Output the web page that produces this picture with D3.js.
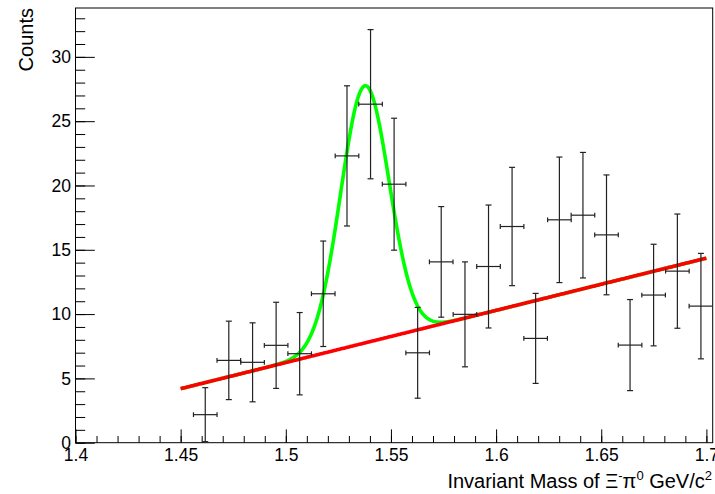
<!DOCTYPE html>
<html>
<head>
<meta charset="utf-8">
<script src="https://cdn.jsdelivr.net/npm/d3@7"></script>
<style>
	html, body { margin: 0; padding: 0; background: #fff; }
	svg { display: block; }
</style>
</head>
<body>
<svg id="chart"></svg>
<script>
	"use strict";

	// bin centres (GeV/c^2), 27 bins between 1.4 and 1.703, filled bins only
	var aMass = [1.4617, 1.4729, 1.4842, 1.4954, 1.5066, 1.5178, 1.5291, 1.5403, 1.5515, 1.5627, 1.5739,
		1.5852, 1.5964, 1.6076, 1.6188, 1.6301, 1.6413, 1.6525, 1.6637, 1.6749, 1.6862, 1.6974];
	var aCounts = [2.18, 6.40, 6.25, 7.57, 6.92, 11.58, 22.30, 26.32, 20.10, 6.99, 14.06,
		9.98, 13.70, 16.81, 8.11, 17.33, 17.69, 16.16, 7.59, 11.48, 13.34, 10.62];
	var aErrors = [2.10, 3.05, 3.07, 3.35, 3.20, 4.10, 5.45, 5.80, 5.13, 3.53, 4.30,
		4.08, 4.78, 4.60, 3.50, 4.88, 4.88, 4.66, 3.54, 3.95, 4.44, 4.10];
	var fBinHalfWidth = 0.00561;

	// fit: pol1 background + gaussian peak, drawn over 1.45 - 1.70
	var aFitRange = [1.45, 1.70];
	var aBackground = [-54.67, 40.6];           // p0, p1
	var aPeak = [20.0, 1.5376, 0.0115];         // amplitude, mean, sigma

	var aXTicks = [1.4, 1.45, 1.5, 1.55, 1.6, 1.65, 1.7];
	var aYTicks = [0, 5, 10, 15, 20, 25, 30];

	var iWidth = 715, iHeight = 494;
	var oFrame = { left: 75.5, right: 712.7, top: 8, bottom: 442.7 };
	var sFont = "'Liberation Sans', Arial, Helvetica, sans-serif";

	var oSvg = d3.select("#chart")
		.attr("width", iWidth)
		.attr("height", iHeight)
		.style("font-family", sFont);

	var oScaleX = d3.scaleLinear()
		.domain([1.4, 1.703])
		.range([oFrame.left, oFrame.right]);

	var oScaleY = d3.scaleLinear()
		.domain([0, 33.8])
		.range([oFrame.bottom, oFrame.top]);

	// minor ticks
	var aXMinor = d3.range(140, 171).map(function (i) { return i / 100; });
	var aYMinor = d3.range(0, 34);

	oSvg.append("g")
		.attr("transform", "translate(0," + oFrame.bottom + ")")
		.call(d3.axisBottom(oScaleX).tickValues(aXMinor).tickSize(-6.7).tickFormat(""))
		.call(function (g) { g.select(".domain").remove(); });

	oSvg.append("g")
		.attr("transform", "translate(" + oFrame.left + ",0)")
		.call(d3.axisLeft(oScaleY).tickValues(aYMinor).tickSize(-9.7).tickFormat(""))
		.call(function (g) { g.select(".domain").remove(); });

	var oXAxis = oSvg.append("g")
		.attr("transform", "translate(0," + oFrame.bottom + ")")
		.call(d3.axisBottom(oScaleX).tickValues(aXTicks).tickSize(-13.3).tickPadding(6).tickFormat(d3.format("~g")));
	oXAxis.select(".domain").remove();

	var oYAxis = oSvg.append("g")
		.attr("transform", "translate(" + oFrame.left + ",0)")
		.call(d3.axisLeft(oScaleY).tickValues(aYTicks).tickSize(-19.3).tickPadding(4.5));
	oYAxis.select(".domain").remove();

	oSvg.selectAll(".tick text")
		.attr("font-family", sFont)
		.attr("font-size", 17.5)
		.attr("fill", "#000");
	oSvg.selectAll(".tick line").attr("stroke", "#000");

	// frame
	oSvg.append("rect")
		.attr("x", oFrame.left)
		.attr("y", oFrame.top)
		.attr("width", oFrame.right - oFrame.left)
		.attr("height", oFrame.bottom - oFrame.top)
		.attr("fill", "none")
		.attr("stroke", "#000")
		.attr("stroke-width", 1);

	// fit curves
	var aSamples = d3.range(0, 401).map(function (i) {
		return aFitRange[0] + (aFitRange[1] - aFitRange[0]) * i / 400;
	});
	var fnBackground = function (x) { return aBackground[0] + aBackground[1] * x; };
	var fnTotal = function (x) {
		var z = (x - aPeak[1]) / aPeak[2];
		return fnBackground(x) + aPeak[0] * Math.exp(-0.5 * z * z);
	};
	var oLine = function (fn) {
		return d3.line()
			.x(function (x) { return oScaleX(x); })
			.y(function (x) { return oScaleY(fn(x)); });
	};

	oSvg.append("path")
		.datum(aSamples)
		.attr("d", oLine(fnTotal))
		.attr("fill", "none")
		.attr("stroke", "#00ff00")
		.attr("stroke-width", 3.6);

	oSvg.append("path")
		.datum(aSamples)
		.attr("d", oLine(fnBackground))
		.attr("fill", "none")
		.attr("stroke", "#ff0000")
		.attr("stroke-width", 3.6);

	// data points with error bars
	var aData = aMass.map(function (m, i) {
		return { x: m, y: aCounts[i], e: aErrors[i] };
	});

	var oPoints = oSvg.append("g")
		.attr("stroke", "#222")
		.attr("stroke-width", 1.2)
		.selectAll("g")
		.data(aData)
		.enter().append("g");

	oPoints.append("line")
		.attr("x1", function (d) { return oScaleX(d.x); })
		.attr("x2", function (d) { return oScaleX(d.x); })
		.attr("y1", function (d) { return oScaleY(Math.max(0, d.y - d.e)); })
		.attr("y2", function (d) { return oScaleY(d.y + d.e); });

	oPoints.append("line")
		.attr("x1", function (d) { return oScaleX(d.x - fBinHalfWidth); })
		.attr("x2", function (d) { return Math.min(oFrame.right, oScaleX(d.x + fBinHalfWidth)); })
		.attr("y1", function (d) { return oScaleY(d.y); })
		.attr("y2", function (d) { return oScaleY(d.y); });

	// end caps
	[-1, 1].forEach(function (s) {
		oPoints.append("line")
			.attr("x1", function (d) { return oScaleX(d.x) - 3; })
			.attr("x2", function (d) { return oScaleX(d.x) + 3; })
			.attr("y1", function (d) { return oScaleY(Math.max(0, d.y + s * d.e)); })
			.attr("y2", function (d) { return oScaleY(Math.max(0, d.y + s * d.e)); });
		oPoints.filter(function (d) { return oScaleX(d.x + s * fBinHalfWidth) < oFrame.right; })
			.append("line")
			.attr("x1", function (d) { return oScaleX(d.x + s * fBinHalfWidth); })
			.attr("x2", function (d) { return oScaleX(d.x + s * fBinHalfWidth); })
			.attr("y1", function (d) { return oScaleY(d.y) - 2.4; })
			.attr("y2", function (d) { return oScaleY(d.y) + 2.4; });
	});

	// axis titles
	var oXTitle = oSvg.append("text")
		.attr("x", 712)
		.attr("y", 488.3)
		.attr("text-anchor", "end")
		.attr("font-size", 20)
		.attr("fill", "#000");
	oXTitle.append("tspan").text("Invariant Mass of \u039E");
	oXTitle.append("tspan").attr("dy", -8).attr("font-size", 13).text("-");
	oXTitle.append("tspan").attr("dy", 8).text("\u03C0");
	oXTitle.append("tspan").attr("dy", -8).attr("font-size", 13).text("0");
	oXTitle.append("tspan").attr("dy", 8).text(" GeV/c");
	oXTitle.append("tspan").attr("dy", -8).attr("font-size", 13).text("2");

	oSvg.append("text")
		.attr("transform", "translate(33," + oFrame.top + ") rotate(-90)")
		.attr("text-anchor", "end")
		.attr("font-size", 20)
		.attr("fill", "#000")
		.text("Counts");
</script>
</body>
</html>
